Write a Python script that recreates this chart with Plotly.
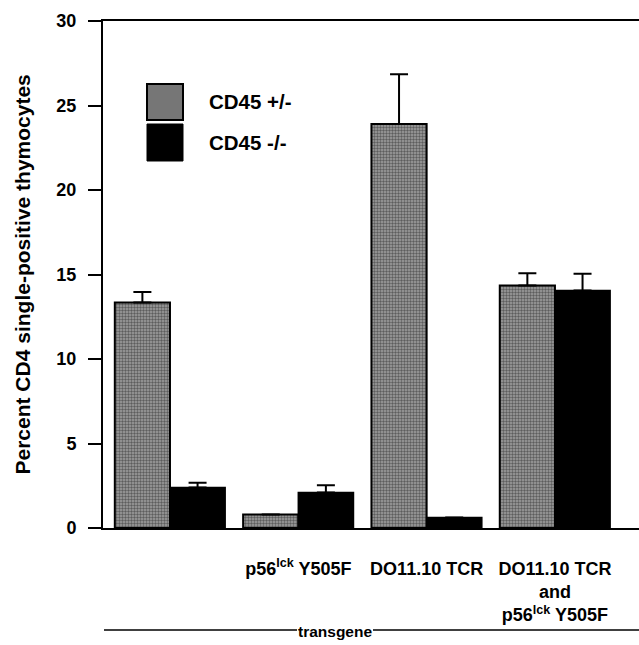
import plotly.graph_objects as go

categories = ["none", "p56lck Y505F", "DO11.10 TCR", "DO11.10 TCR and p56lck Y505F"]
tick_labels = ["", "p56<sup>lck</sup> Y505F", "DO11.10 TCR",
               "DO11.10 TCR<br>and<br>p56<sup>lck</sup> Y505F"]
series_names = ["CD45 +/-", "CD45 -/-"]
het_values = [13.35, 0.8, 23.9, 14.35]
het_errors = [0.62, None, 2.95, 0.72]
ko_values = [2.4, 2.1, 0.62, 14.05]
ko_errors = [0.28, 0.43, None, 1.0]
y_ticks = [0, 5, 10, 15, 20, 25, 30]

W, H = 639, 645
L, T, B = 103, 21, 528
R = 639
pw, ph = R - L, B - T

def px(x):
    return (x - L) / pw

def py(y):
    return (B - y) / ph

FONT = "Liberation Sans"
xpos = list(range(len(categories)))

fig = go.Figure()
fig.add_trace(go.Bar(
    x=xpos, y=het_values, name=series_names[0], width=0.43, offset=-0.43,
    marker=dict(color="#a0a0a0", line=dict(color="black", width=2),
                pattern=dict(shape=".", fgcolor="#1a1a1a", bgcolor="#a0a0a0",
                             size=3, solidity=0.5, fillmode="overlay")),
    error_y=dict(type="data", array=het_errors, arrayminus=[0]*4, symmetric=False,
                 color="black", thickness=2, width=9),
    showlegend=False,
))
fig.add_trace(go.Bar(
    x=xpos, y=ko_values, name=series_names[1], width=0.43, offset=0,
    marker=dict(color="black", line=dict(color="black", width=1.5)),
    error_y=dict(type="data", array=ko_errors, arrayminus=[0]*4, symmetric=False,
                 color="black", thickness=2, width=9),
    showlegend=False,
))

# legend swatches and labels
fig.add_shape(type="rect", xref="paper", yref="paper",
              x0=px(147), x1=px(183), y0=py(120), y1=py(84),
              fillcolor="#767676", line=dict(color="black", width=2))
fig.add_shape(type="rect", xref="paper", yref="paper",
              x0=px(147), x1=px(183), y0=py(161), y1=py(124),
              fillcolor="black", line=dict(color="black", width=1))
for name, yy in zip(series_names, [101, 142]):
    fig.add_annotation(text=f"<b>{name}</b>", xref="paper", yref="paper",
                       x=px(207), y=py(yy), xanchor="left", yanchor="middle",
                       showarrow=False, font=dict(family=FONT, size=20.5, color="black"))

# y title
fig.add_annotation(text="<b>Percent CD4 single-positive thymocytes</b>",
                   xref="paper", yref="paper", x=px(22), y=0.5, textangle=-90,
                   xanchor="center", yanchor="middle", showarrow=False,
                   font=dict(family=FONT, size=21, color="black"))

# transgene bracket
fig.add_annotation(text="<b>transgene</b>", xref="paper", yref="paper",
                   x=px(335), y=py(631), xanchor="center", yanchor="middle",
                   showarrow=False, font=dict(family=FONT, size=15.5, color="black"))
fig.add_shape(type="line", xref="paper", yref="paper", x0=px(104), x1=px(297),
              y0=py(630), y1=py(630), line=dict(color="black", width=1.5))
fig.add_shape(type="line", xref="paper", yref="paper", x0=px(373), x1=px(640),
              y0=py(630), y1=py(630), line=dict(color="black", width=1.5))

fig.update_layout(
    width=W, height=H,
    margin=dict(l=L, r=W - R, t=T, b=H - B, pad=0, autoexpand=False),
    plot_bgcolor="white", paper_bgcolor="white",
    barmode="overlay",
    font=dict(family=FONT, color="black"),
)
fig.update_xaxes(
    range=[-0.522, 3.655], tickmode="array", tickvals=xpos, ticktext=[f"<b>{t}</b>" if t else " " for t in tick_labels],
    showline=True, linecolor="black", linewidth=2, mirror=True, ticks="",
    showgrid=False, zeroline=False, tickfont=dict(family=FONT, size=18, color="black"),
    ticklabelstandoff=23, automargin=False,
)
fig.update_yaxes(
    range=[0, 30], tickmode="array", tickvals=y_ticks,
    ticktext=[f"<b>{v}</b>" for v in y_ticks],
    showline=True, linecolor="black", linewidth=2, mirror=False,
    ticks="outside", ticklen=13, tickwidth=2, tickcolor="black",
    showgrid=False, zeroline=False, tickfont=dict(family=FONT, size=18, color="black"),
    ticklabelstandoff=8, automargin=False,
)

fig.write_html("out.html", config={"displayModeBar": False},
               post_script="document.body.style.margin='0';document.body.style.overflow='hidden';")
